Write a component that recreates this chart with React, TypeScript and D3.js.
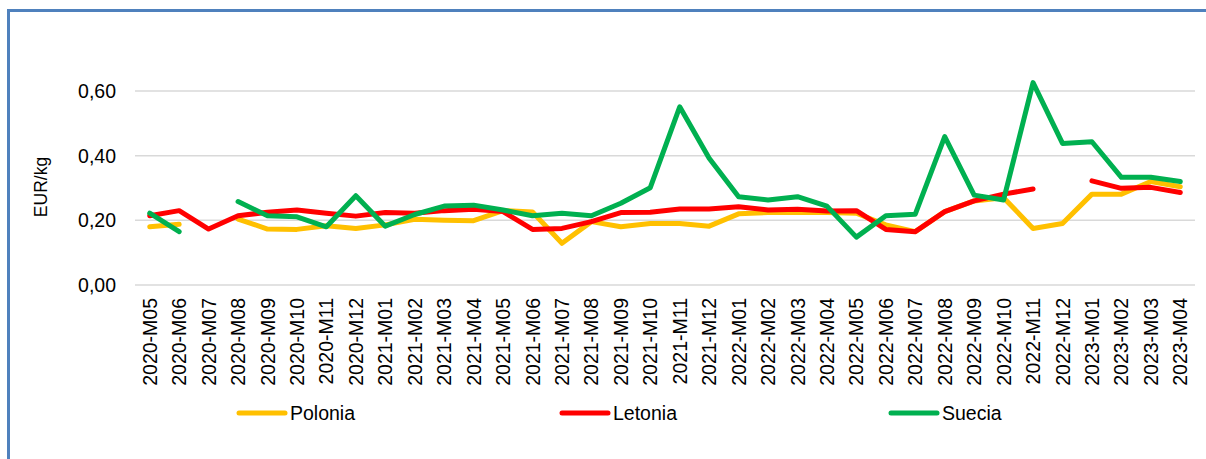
import React from "react";
import * as d3 from "d3";

const categories: string[] = [
  "2020-M05", "2020-M06", "2020-M07", "2020-M08", "2020-M09", "2020-M10", "2020-M11", "2020-M12",
  "2021-M01", "2021-M02", "2021-M03", "2021-M04", "2021-M05", "2021-M06", "2021-M07", "2021-M08",
  "2021-M09", "2021-M10", "2021-M11", "2021-M12",
  "2022-M01", "2022-M02", "2022-M03", "2022-M04", "2022-M05", "2022-M06", "2022-M07", "2022-M08",
  "2022-M09", "2022-M10", "2022-M11", "2022-M12",
  "2023-M01", "2023-M02", "2023-M03", "2023-M04",
];

const polonia: (number | null)[] = [
  0.18, 0.188, null, 0.204, 0.173, 0.172, 0.183, 0.175,
  0.186, 0.203, 0.2, 0.199, 0.23, 0.226, 0.129, 0.196,
  0.18, 0.19, 0.19, 0.182,
  0.22, 0.224, 0.224, 0.224, 0.222, 0.186, 0.165, 0.227,
  0.26, 0.27, 0.175, 0.19,
  0.281, 0.281, 0.32, 0.304,
];

const letonia: (number | null)[] = [
  0.214, 0.23, 0.173, 0.214, 0.225, 0.232, 0.222, 0.213,
  0.224, 0.222, 0.23, 0.234, 0.227, 0.172, 0.175, 0.196,
  0.224, 0.225, 0.235, 0.235,
  0.242, 0.232, 0.234, 0.229, 0.23, 0.172, 0.165, 0.227,
  0.26, 0.281, 0.297, null,
  0.322, 0.299, 0.302, 0.286,
];

const suecia: (number | null)[] = [
  0.222, 0.165, null, 0.258, 0.214, 0.211, 0.18, 0.276,
  0.182, 0.218, 0.244, 0.247, 0.232, 0.214, 0.222, 0.214,
  0.253, 0.301, 0.551, 0.392,
  0.273, 0.263, 0.273, 0.244, 0.148, 0.214, 0.219, 0.459,
  0.278, 0.263, 0.626, 0.438,
  0.443, 0.333, 0.333, 0.32,
];

const yTicks: number[] = [0, 0.2, 0.4, 0.6];

const series = [
  { name: "Polonia", values: polonia, color: "#FFC000" },
  { name: "Letonia", values: letonia, color: "#FF0000" },
  { name: "Suecia", values: suecia, color: "#00B050" },
];

const legendX = [237, 560, 889];

const FONT = "'Liberation Sans', Arial, sans-serif";

export default function App() {
  const W = 1206;
  const H = 459;
  const x = d3.scaleBand<string>().domain(categories).range([135, 1195]).paddingInner(0).paddingOuter(0);
  const y = d3.scaleLinear().domain([0, 0.6]).range([285, 91]);
  const cx = (c: string) => (x(c) as number) + x.bandwidth() / 2;
  const fmt = (v: number) => v.toFixed(2).replace(".", ",");

  return (
    <svg
      width={W}
      height={H}
      style={{ position: "absolute", left: 0, top: 0, background: "#fff" }}
      fontFamily={FONT}
    >
      <rect x={0} y={0} width={W} height={H} fill="#fff" />
      <rect x={8.5} y={10.5} width={W + 20} height={H + 20} fill="none" stroke="#4F81BD" strokeWidth={3} />

      {yTicks.map((t) => (
        <g key={t}>
          <line x1={135} x2={1195} y1={y(t)} y2={y(t)} stroke="#D9D9D9" strokeWidth={1.5} />
          <text x={116} y={y(t)} textAnchor="end" dominantBaseline="central" fontSize={19.5} fill="#000">
            {fmt(t)}
          </text>
        </g>
      ))}

      <text
        transform={`translate(41, 187) rotate(-90)`}
        textAnchor="middle"
        dominantBaseline="central"
        fontSize={17.5}
        fill="#000"
      >
        EUR/kg
      </text>

      {categories.map((c) => (
        <text
          key={c}
          transform={`translate(${cx(c)}, 298) rotate(-90)`}
          textAnchor="end"
          dominantBaseline="central"
          fontSize={19.5}
          fill="#000"
        >
          {c}
        </text>
      ))}

      {series.map((s) => {
        const line = d3
          .line<number | null>()
          .defined((d) => d != null)
          .x((_, i) => cx(categories[i]))
          .y((d) => y(d as number));
        return (
          <path
            key={s.name}
            d={line(s.values) || ""}
            fill="none"
            stroke={s.color}
            strokeWidth={5}
            strokeLinejoin="round"
            strokeLinecap="round"
          />
        );
      })}

      {series.map((s, i) => (
        <g key={s.name}>
          <line
            x1={legendX[i] + 2}
            x2={legendX[i] + 48}
            y1={413}
            y2={413}
            stroke={s.color}
            strokeWidth={5}
            strokeLinecap="round"
          />
          <text x={legendX[i] + 53} y={413} dominantBaseline="central" fontSize={19.5} fill="#000">
            {s.name}
          </text>
        </g>
      ))}
    </svg>
  );
}
